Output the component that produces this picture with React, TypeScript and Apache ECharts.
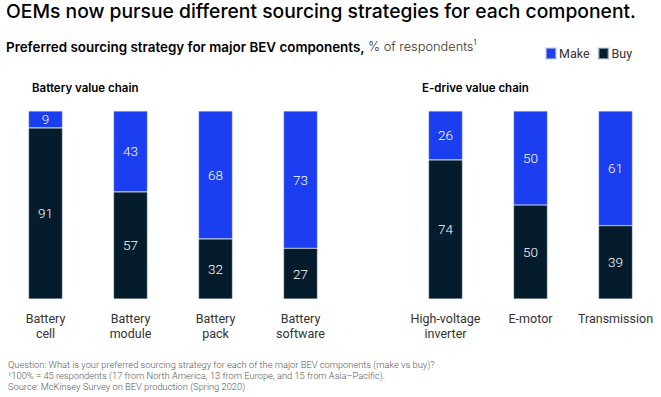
import React, { useEffect, useRef } from "react";
import * as echarts from "echarts";

const batteryCategories = ["Battery\ncell", "Battery\nmodule", "Battery\npack", "Battery\nsoftware"];
const batteryMake = [9, 43, 68, 73];
const batteryBuy = [91, 57, 32, 27];

const edriveCategories = ["High-voltage\ninverter", "E-motor", "Transmission"];
const edriveMake = [26, 50, 61];
const edriveBuy = [74, 50, 39];

const titleText = "OEMs now pursue different sourcing strategies for each component.";
const subtitleBold = "Preferred sourcing strategy for major BEV components,";
const subtitleRegular = " % of respondents";
const sectionLeft = "Battery value chain";
const sectionRight = "E-drive value chain";
const footnotes = [
  "Question: What is your preferred sourcing strategy for each of the major BEV components (make vs buy)?",
  "¹100% = 45 respondents (17 from North America, 13 from Europe, and 15 from Asia–Pacific).",
  "Source: McKinsey Survey on BEV production (Spring 2020)",
];

const MAKE = "#1a3ef0";
const BUY = "#051c2c";
const TFONT = "Inter, 'Noto Sans', sans-serif";
const FONT = "Roboto, 'Liberation Sans', sans-serif";

export default function App() {
  const ref = useRef<HTMLDivElement>(null);
  useEffect(() => {
    if (!ref.current) return;
    const chart = echarts.init(ref.current, undefined, { renderer: "svg" });
    const label = {
      show: true,
      position: "inside" as const,
      color: "#ffffff",
      fontSize: 13.5,
      fontWeight: 300 as any,
      fontFamily: FONT,
    };
    const itemStyleFor = (c: string) => ({ color: c, borderColor: "rgba(200,210,225,0.6)", borderWidth: 0.6 });
    const mkSeries = (name: string, data: number[], idx: number, color: string) => ({
      name,
      type: "bar",
      stack: "s" + idx,
      xAxisIndex: idx,
      yAxisIndex: idx,
      barWidth: 34,
      data,
      label,
      itemStyle: itemStyleFor(color),
    });
    const xAxisFor = (cats: string[], idx: number) => ({
      type: "category",
      gridIndex: idx,
      data: cats,
      axisLine: { show: false },
      axisTick: { show: false },
      axisLabel: {
        margin: 12,
        color: "#333333",
        fontSize: 12.5,
        lineHeight: 15,
        fontFamily: FONT,
        interval: 0,
      },
    });
    const yAxisFor = (idx: number) => ({
      type: "value",
      gridIndex: idx,
      min: 0,
      max: 100,
      show: false,
      splitLine: { show: false },
    });
    chart.setOption({
      animation: false,
      textStyle: { fontFamily: FONT },
      legend: {
        data: ["Make", "Buy"],
        left: 545,
        top: 47,
        padding: 0,
        icon: "rect",
        itemWidth: 10,
        itemHeight: 11,
        itemGap: 8,
        textStyle: { fontSize: 12.5, color: "#333333", fontFamily: FONT, padding: [0, 0, 0, -2] },
        selectedMode: false,
      },
      grid: [
        { left: 3, width: 340, top: 111, height: 188 },
        { left: 403, width: 255, top: 111, height: 188 },
      ],
      xAxis: [xAxisFor(batteryCategories, 0), xAxisFor(edriveCategories, 1)],
      yAxis: [yAxisFor(0), yAxisFor(1)],
      series: [
        mkSeries("Buy", batteryBuy, 0, BUY),
        mkSeries("Make", batteryMake, 0, MAKE),
        mkSeries("Buy", edriveBuy, 1, BUY),
        mkSeries("Make", edriveMake, 1, MAKE),
      ],
      graphic: [
        {
          type: "text",
          left: 6,
          top: 1,
          style: { text: titleText, fontSize: 19.3, fontWeight: 500, fill: "#000000", fontFamily: TFONT },
        },
        {
          type: "text",
          left: 6,
          top: 39,
          style: {
            text: "{b|" + subtitleBold + "}{r|" + subtitleRegular + "}{s|1}",
            rich: {
              b: { fontSize: 13.4, fontWeight: 600, fill: "#000000", fontFamily: TFONT },
              r: { fontSize: 12.8, fontWeight: 300, fill: "#333333", fontFamily: TFONT },
              s: { fontSize: 7, fill: "#333333", fontFamily: TFONT, verticalAlign: "top", padding: [0, 0, 8, 0] },
            },
          },
        },
        {
          type: "text",
          left: 32,
          top: 82,
          style: { text: sectionLeft, fontSize: 11.5, fontWeight: 600, fill: "#000000", fontFamily: TFONT },
        },
        {
          type: "text",
          left: 422,
          top: 82,
          style: { text: sectionRight, fontSize: 11.5, fontWeight: 600, fill: "#000000", fontFamily: TFONT },
        },
        ...footnotes.map((t, i) => ({
          type: "text",
          left: 8,
          top: 360 + i * 11,
          style: { text: t, fontSize: 9.3, fontWeight: 300, fill: "#555555", fontFamily: FONT },
        })),
      ],
    });
    return () => chart.dispose();
  }, []);
  return <div ref={ref} style={{ position: "absolute", left: 0, top: 0, width: 661, height: 397 }} />;
}
